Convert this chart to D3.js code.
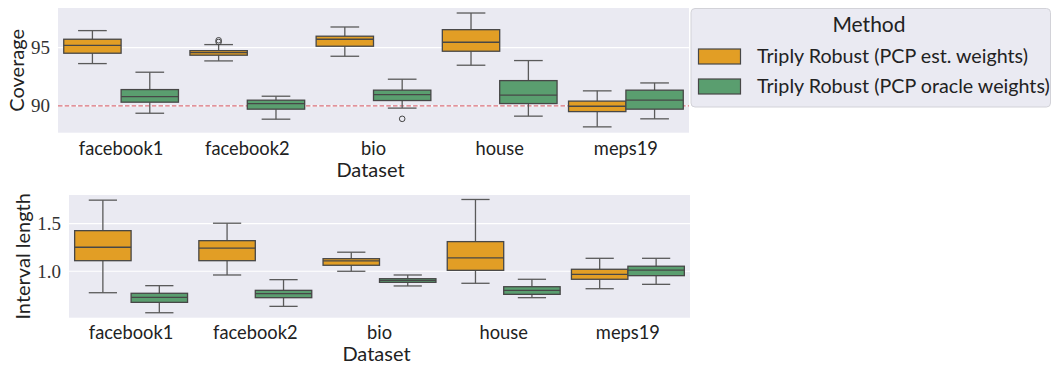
<!DOCTYPE html>
<html><head><meta charset="utf-8">
<script src="https://cdn.jsdelivr.net/npm/d3@7"></script>
<style>
html,body{margin:0;padding:0;background:#fff;}
svg{display:block;}
</style></head>
<body><svg id="chart" width="1052" height="366"></svg>
<script>
// ---- data ----
const datasets = ["facebook1", "facebook2", "bio", "house", "meps19"];
const methods = ["Triply Robust (PCP est. weights)", "Triply Robust (PCP oracle weights)"];
const methodColors = ["#e29e25", "#5a9e6f"];
// box stats per dataset: [whiskerLow, q1, median, q3, whiskerHigh]
const coverageEst = [
  [93.63, 94.52, 95.20, 95.72, 96.46],
  [93.86, 94.35, 94.57, 94.74, 95.26],
  [94.26, 95.12, 95.72, 95.98, 96.77],
  [93.49, 94.69, 95.46, 96.54, 97.97],
  [88.20, 89.51, 89.97, 90.41, 91.29]
];
const coverageOracle = [
  [89.37, 90.32, 90.80, 91.40, 92.89],
  [88.86, 89.72, 90.20, 90.49, 90.83],
  [89.81, 90.46, 90.97, 91.35, 92.29],
  [89.12, 90.20, 90.92, 92.17, 93.89],
  [88.89, 89.72, 90.49, 91.35, 91.97]
];
// outliers: [datasetIndex, methodIndex, value]
const coverageOutliers = [[1, 0, 95.63], [1, 0, 95.48], [2, 1, 88.89]];
const lengthEst = [
  [0.775, 1.111, 1.252, 1.426, 1.746],
  [0.961, 1.111, 1.242, 1.321, 1.504],
  [1.000, 1.063, 1.108, 1.132, 1.200],
  [0.874, 1.010, 1.140, 1.311, 1.753],
  [0.817, 0.916, 0.968, 1.021, 1.136]
];
const lengthOracle = [
  [0.565, 0.674, 0.727, 0.769, 0.849],
  [0.632, 0.723, 0.765, 0.800, 0.912],
  [0.846, 0.884, 0.905, 0.922, 0.961],
  [0.723, 0.758, 0.800, 0.838, 0.916],
  [0.863, 0.954, 1.011, 1.053, 1.136]
];
const lengthOutliers = [];
const coverageTicks = [90, 95];
const coverageTickLabels = ["90", "95"];
const lengthTicks = [1.0, 1.5];
const lengthTickLabels = ["1.0", "1.5"];
const targetCoverage = 90;

// ---- drawing ----
const svg = d3.select("#chart");
const bg = "#eaeaf2";
const edge = "#474747";
const whiskerColor = "#5a5a5a";
const sansFont = "Lato, 'Noto Sans', sans-serif";
const serifFont = "'Liberation Serif', 'DejaVu Serif', serif";

function panel(opts) {
  const {x0, x1, y0, y1, domain, ticks, tickLabels, est, oracle, outliers, ylabel, ylabelX, catBaseline, titleBaseline, refLine} = opts;
  const g = svg.append("g");
  const x = d3.scaleBand().domain(datasets).range([x0, x1]).paddingInner(0).paddingOuter(0);
  const xm = d3.scaleBand().domain([0, 1]).range([0, x.bandwidth()]).paddingInner(0).paddingOuter(0.1);
  const y = d3.scaleLinear().domain(domain).range([y1, y0]);

  g.append("rect").attr("x", x0).attr("y", y0).attr("width", x1 - x0).attr("height", y1 - y0).attr("fill", bg);

  // grid
  g.selectAll(".grid").data(ticks).join("line")
    .attr("x1", x0).attr("x2", x1)
    .attr("y1", d => y(d)).attr("y2", d => y(d))
    .attr("stroke", "#fff").attr("stroke-width", 1.1);

  // y tick labels via axis
  const yAxis = d3.axisLeft(y).tickValues(ticks).tickFormat((d, i) => tickLabels[i]).tickSize(0).tickPadding(8);
  const ya = g.append("g").attr("transform", `translate(${x0},0)`).call(yAxis);
  ya.select(".domain").remove();
  ya.selectAll("text").attr("font-family", serifFont).attr("font-size", 19).attr("fill", "#333");

  if (refLine !== undefined) {
    g.append("line").attr("x1", x0).attr("x2", x1).attr("y1", y(refLine)).attr("y2", y(refLine))
      .attr("stroke", "#d9707a").attr("stroke-width", 1.4).attr("stroke-dasharray", "4.5,2.2");
  }

  const series = [est, oracle];
  series.forEach((stats, mi) => {
    const bw = xm.bandwidth();
    const gg = g.append("g");
    stats.forEach((s, di) => {
      const cx = x(datasets[di]) + xm(mi) + bw / 2;
      const left = x(datasets[di]) + xm(mi);
      gg.append("line").attr("x1", cx).attr("x2", cx).attr("y1", y(s[0])).attr("y2", y(s[1])).attr("stroke", whiskerColor).attr("stroke-width", 1.3);
      gg.append("line").attr("x1", cx).attr("x2", cx).attr("y1", y(s[3])).attr("y2", y(s[4])).attr("stroke", whiskerColor).attr("stroke-width", 1.3);
      [s[0], s[4]].forEach(v => {
        gg.append("line").attr("x1", cx - bw / 4).attr("x2", cx + bw / 4).attr("y1", y(v)).attr("y2", y(v)).attr("stroke", whiskerColor).attr("stroke-width", 1.3);
      });
      gg.append("rect").attr("x", left).attr("width", bw).attr("y", y(s[3])).attr("height", y(s[1]) - y(s[3]))
        .attr("fill", methodColors[mi]).attr("stroke", edge).attr("stroke-width", 1.3);
      gg.append("line").attr("x1", left).attr("x2", left + bw).attr("y1", y(s[2])).attr("y2", y(s[2])).attr("stroke", edge).attr("stroke-width", 1.3);
    });
  });
  outliers.forEach(o => {
    const cx = x(datasets[o[0]]) + xm(o[1]) + xm.bandwidth() / 2;
    g.append("circle").attr("cx", cx).attr("cy", y(o[2])).attr("r", 2.8).attr("fill", "none").attr("stroke", "#444").attr("stroke-width", 1);
  });

  // x labels
  const xAxis = d3.axisBottom(x).tickSize(0).tickPadding(0);
  const xa = g.append("g").attr("transform", `translate(0,${catBaseline})`).call(xAxis);
  xa.select(".domain").remove();
  xa.selectAll("text").attr("dy", 0).attr("y", 0).attr("font-family", sansFont).attr("font-size", 18.3).attr("fill", "#222");

  g.append("text").attr("x", (x0 + x1) / 2 - 3).attr("y", titleBaseline).attr("text-anchor", "middle")
    .attr("font-family", sansFont).attr("font-size", 20).attr("fill", "#222").text("Dataset");
  g.append("text").attr("transform", `translate(${ylabelX},${(y0 + y1) / 2}) rotate(-90)`).attr("text-anchor", "middle")
    .attr("font-family", sansFont).attr("font-size", 20).attr("fill", "#222").text(ylabel);
}

panel({x0: 58, x1: 689, y0: 8, y1: 132.7, domain: [87.7, 98.4], ticks: coverageTicks, tickLabels: coverageTickLabels,
  est: coverageEst, oracle: coverageOracle, outliers: coverageOutliers, ylabel: "Coverage", ylabelX: 24,
  catBaseline: 154.5, titleBaseline: 176.5, refLine: targetCoverage});
panel({x0: 69, x1: 690, y0: 195, y1: 317.7, domain: [0.513, 1.80], ticks: lengthTicks, tickLabels: lengthTickLabels,
  est: lengthEst, oracle: lengthOracle, outliers: lengthOutliers, ylabel: "Interval length", ylabelX: 30,
  catBaseline: 339, titleBaseline: 361});

// legend
const lg = svg.append("g");
lg.append("rect").attr("x", 691).attr("y", 8.5).attr("width", 359.5).attr("height", 98.5).attr("rx", 4)
  .attr("fill", bg).attr("stroke", "#d2d2d8").attr("stroke-width", 1);
lg.append("text").attr("x", 869).attr("y", 32).attr("text-anchor", "middle").attr("font-family", sansFont)
  .attr("font-size", 21).attr("fill", "#222").text("Method");
methods.forEach((m, i) => {
  const yy = 49 + i * 30;
  lg.append("rect").attr("x", 698.5).attr("y", yy).attr("width", 42).attr("height", 15)
    .attr("fill", methodColors[i]).attr("stroke", edge).attr("stroke-width", 1.2);
  lg.append("text").attr("x", 757).attr("y", yy + 14).attr("font-family", sansFont).attr("font-size", 19.7)
    .attr("fill", "#222").text(m);
});
</script></body></html>
